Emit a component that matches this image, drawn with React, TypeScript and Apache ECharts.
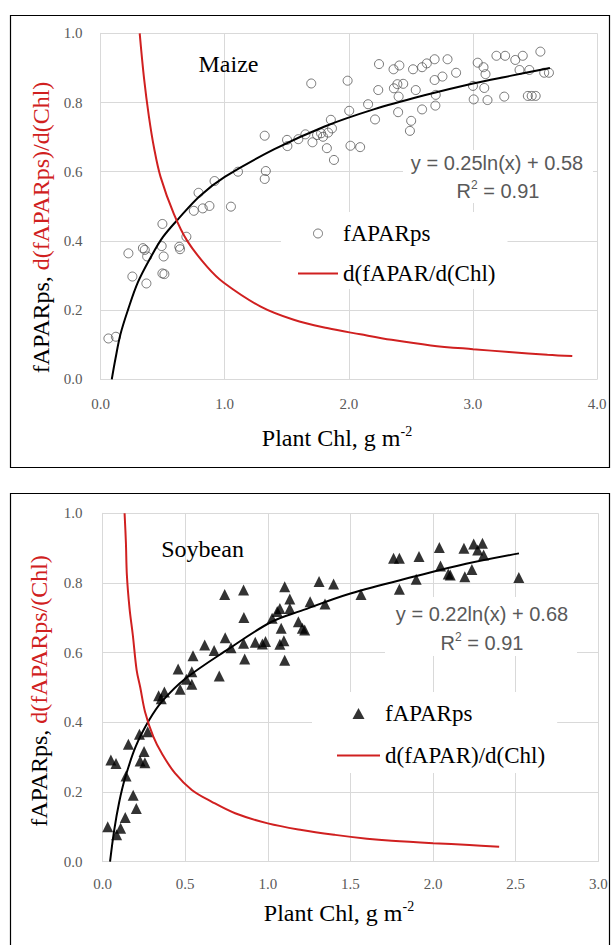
import React, { useEffect, useRef } from "react";
import * as echarts from "echarts";

// ---------- Maize ----------
const maizePoints: [number, number][] = [
  [0.063, 0.118], [0.123, 0.123], [0.224, 0.364], [0.256, 0.297], [0.341, 0.379],
  [0.356, 0.374], [0.375, 0.355], [0.369, 0.277], [0.498, 0.449], [0.492, 0.385],
  [0.508, 0.355], [0.498, 0.306], [0.514, 0.304], [0.634, 0.383], [0.64, 0.376],
  [0.691, 0.412], [0.751, 0.487], [0.789, 0.539], [0.823, 0.494], [0.877, 0.501],
  [0.918, 0.573], [1.05, 0.499], [1.107, 0.6], [1.322, 0.704], [1.331, 0.602],
  [1.322, 0.579], [1.502, 0.692], [1.505, 0.674], [1.593, 0.694], [1.65, 0.708],
  [1.697, 0.855], [1.707, 0.685], [1.744, 0.706], [1.776, 0.711], [1.792, 0.701],
  [1.823, 0.668], [1.833, 0.713], [1.855, 0.75], [1.864, 0.725], [1.88, 0.634],
  [1.99, 0.863], [2.003, 0.776], [2.013, 0.675], [2.091, 0.671], [2.155, 0.795],
  [2.211, 0.751], [2.237, 0.836], [2.243, 0.911], [2.36, 0.896], [2.363, 0.841],
  [2.391, 0.853], [2.401, 0.817], [2.397, 0.772], [2.407, 0.907], [2.438, 0.854],
  [2.492, 0.718], [2.502, 0.747], [2.517, 0.896], [2.539, 0.836], [2.59, 0.78],
  [2.59, 0.902], [2.628, 0.913], [2.691, 0.925], [2.691, 0.865], [2.697, 0.791],
  [2.7, 0.822], [2.754, 0.875], [2.795, 0.925], [2.864, 0.886], [3.0, 0.848],
  [3.006, 0.809], [3.038, 0.915], [3.085, 0.902], [3.091, 0.842], [3.101, 0.882],
  [3.117, 0.807], [3.189, 0.935], [3.259, 0.935], [3.252, 0.817], [3.341, 0.923],
  [3.401, 0.935], [3.375, 0.894], [3.442, 0.819], [3.454, 0.894], [3.473, 0.819],
  [3.505, 0.819], [3.543, 0.947], [3.574, 0.886], [3.612, 0.886],
];
const maizeTrend: [number, number][] = [
  [0.09, 0.0], [0.12, 0.06], [0.16, 0.13], [0.22, 0.2], [0.3, 0.28], [0.4, 0.35],
  [0.5, 0.41], [0.63, 0.465], [0.8, 0.53], [1.0, 0.585], [1.4, 0.665], [1.8, 0.73],
  [2.2, 0.78], [2.6, 0.82], [3.0, 0.855], [3.3, 0.877], [3.62, 0.9],
];
const maizeDeriv: [number, number][] = [
  [0.315, 1.0], [0.35, 0.87], [0.389, 0.76], [0.43, 0.67], [0.483, 0.585], [0.59, 0.478],
  [0.698, 0.4], [0.859, 0.325], [0.993, 0.279], [1.29, 0.21], [1.556, 0.172],
  [1.825, 0.148], [2.093, 0.13], [2.344, 0.114], [2.66, 0.098], [3.0, 0.087],
  [3.29, 0.079], [3.6, 0.071], [3.8, 0.067],
];

// ---------- Soybean ----------
const soyPoints: [number, number][] = [
  [0.031, 0.1], [0.05, 0.292], [0.081, 0.282], [0.085, 0.077], [0.109, 0.096],
  [0.137, 0.127], [0.142, 0.246], [0.156, 0.337], [0.185, 0.191], [0.204, 0.153],
  [0.223, 0.366], [0.227, 0.289], [0.251, 0.316], [0.256, 0.284], [0.273, 0.373],
  [0.339, 0.476], [0.355, 0.468], [0.374, 0.487], [0.457, 0.553], [0.469, 0.495],
  [0.507, 0.524], [0.54, 0.509], [0.547, 0.591], [0.54, 0.545], [0.618, 0.622],
  [0.675, 0.606], [0.706, 0.533], [0.742, 0.643], [0.739, 0.767], [0.777, 0.614],
  [0.853, 0.78], [0.855, 0.701], [0.853, 0.627], [0.86, 0.582], [0.924, 0.63],
  [0.967, 0.625], [0.986, 0.632], [1.026, 0.699], [1.057, 0.718], [1.073, 0.727],
  [1.073, 0.624], [1.081, 0.67], [1.097, 0.634], [1.102, 0.789], [1.102, 0.578],
  [1.133, 0.754], [1.133, 0.727], [1.185, 0.689], [1.209, 0.67], [1.223, 0.665],
  [1.256, 0.746], [1.31, 0.804], [1.346, 0.74], [1.398, 0.797], [1.564, 0.767],
  [1.761, 0.871], [1.796, 0.871], [1.796, 0.782], [1.915, 0.876], [1.898, 0.811],
  [2.038, 0.902], [2.045, 0.849], [2.092, 0.826], [2.104, 0.823], [2.187, 0.9],
  [2.192, 0.818], [2.235, 0.839], [2.246, 0.912], [2.27, 0.895], [2.299, 0.914],
  [2.306, 0.88], [2.519, 0.816],
];
const soyTrend: [number, number][] = [
  [0.045, 0.0], [0.07, 0.09], [0.1, 0.17], [0.136, 0.24], [0.2, 0.33], [0.28, 0.405],
  [0.36, 0.46], [0.5, 0.525], [0.76, 0.61], [1.02, 0.688], [1.2, 0.72], [1.5, 0.77],
  [1.9, 0.82], [2.2, 0.855], [2.52, 0.885],
];
const soyDeriv: [number, number][] = [
  [0.133, 1.0], [0.141, 0.917], [0.147, 0.822], [0.163, 0.727], [0.183, 0.65],
  [0.206, 0.55], [0.228, 0.5], [0.257, 0.43], [0.307, 0.359], [0.358, 0.311],
  [0.438, 0.254], [0.54, 0.206], [0.661, 0.172], [0.802, 0.139], [1.0, 0.11],
  [1.205, 0.091], [1.407, 0.077], [1.6, 0.066], [1.75, 0.06], [2.0, 0.053],
  [2.22, 0.048], [2.4, 0.043],
];

const maizeLegend = ["fAPARps", "d(fAPAR/d(Chl)"];
const soyLegend = ["fAPARps (soy)", "d(fAPAR)/d(Chl)"];
const maizeEq = ["y = 0.25ln(x) + 0.58", "0.91"];
const soyEq = ["y = 0.22ln(x) + 0.68", "0.91"];

const SERIF = "Liberation Serif";
const SANS = "Liberation Sans";
const GRID = "#d9d9d9";
const TICK = "#595959";
const RED = "#d02020";
const CIRCLE = "#555";

export default function App() {
  const ref = useRef<HTMLDivElement>(null);
  useEffect(() => {
    if (!ref.current) return;
    const chart = echarts.init(ref.current, undefined, { renderer: "svg" });
    const xAxisBase = (gridIndex: number, max: number, interval: number, margin: number) => ({
      type: "value",
      gridIndex,
      min: 0,
      max,
      interval,
      axisLine: { show: true, lineStyle: { color: GRID, width: 1 } },
      axisTick: { show: false },
      splitLine: { show: true, lineStyle: { color: GRID, width: 1 } },
      axisLabel: {
        margin,
        color: TICK,
        fontFamily: SERIF,
        fontSize: 15,
        formatter: (v: number) => v.toFixed(1),
      },
    });
    const yAxisBase = (gridIndex: number, margin: number) => ({
      type: "value",
      gridIndex,
      min: 0,
      max: 1,
      interval: 0.2,
      axisLine: { show: true, lineStyle: { color: GRID, width: 1 } },
      axisTick: { show: false },
      splitLine: { show: true, lineStyle: { color: GRID, width: 1 } },
      axisLabel: {
        margin,
        color: TICK,
        fontFamily: SERIF,
        fontSize: 15,
        formatter: (v: number) => v.toFixed(1),
      },
    });
    const legendText = { fontFamily: SERIF, fontSize: 23, color: "#000" };
    const lineIcon = "path://M0,0 H40 V2 H0 Z";
    const triIcon = "path://M6,0 L12,11 L0,11 Z";
    const supRich = {
      b: { fontFamily: SERIF, fontSize: 24, fill: "#000", lineHeight: 28 },
      sup: { fontFamily: SERIF, fontSize: 14, fill: "#000", verticalAlign: "top", lineHeight: 14 },
    };
    const yTitleRich = {
      b: { fontFamily: SERIF, fontSize: 24, fill: "#000" },
      r: { fontFamily: SERIF, fontSize: 24, fill: RED },
    };
    const eqRich = {
      t: { fontFamily: SANS, fontSize: 20, fill: TICK, lineHeight: 24 },
      sup: { fontFamily: SANS, fontSize: 12, fill: TICK, verticalAlign: "top", lineHeight: 12 },
    };

    const option: any = {
      animation: false,
      backgroundColor: "#fff",
      grid: [
        { left: 100.6, top: 33.3, width: 496.5, height: 346, containLabel: false },
        { left: 102.6, top: 513.3, width: 495.7, height: 348.4, containLabel: false },
      ],
      xAxis: [xAxisBase(0, 4, 1, 17), xAxisBase(1, 3, 0.5, 15)],
      yAxis: [yAxisBase(0, 18), yAxisBase(1, 20)],
      legend: [
        {
          orient: "vertical",
          left: 281,
          top: 212,
          padding: [10, 12, 4, 17],
          backgroundColor: "#fff",
          itemWidth: 40,
          itemHeight: 9,
          itemGap: 17,
          selectedMode: false,
          textStyle: legendText,
          data: [
            {
              name: maizeLegend[0],
              icon: "circle",
              itemStyle: { color: "rgba(0,0,0,0)", borderColor: CIRCLE, borderWidth: 1 },
            },
            {
              name: maizeLegend[1],
              icon: lineIcon,
              itemStyle: { color: RED, borderWidth: 0 },
            },
          ],
        },
        {
          orient: "vertical",
          left: 312,
          top: 692,
          padding: [10, 12, 6, 25],
          backgroundColor: "#fff",
          itemWidth: 43,
          itemHeight: 11,
          itemGap: 19,
          selectedMode: false,
          textStyle: legendText,
          formatter: (n: string) => n.replace(" (soy)", ""),
          data: [
            { name: soyLegend[0], icon: triIcon, itemStyle: { color: "#000", borderWidth: 0 } },
            { name: soyLegend[1], icon: lineIcon, itemStyle: { color: RED, borderWidth: 0 } },
          ],
        },
      ],
      series: [
        {
          name: maizeLegend[0],
          type: "scatter",
          xAxisIndex: 0,
          yAxisIndex: 0,
          symbol: "circle",
          symbolSize: 9,
          itemStyle: { color: "rgba(0,0,0,0)", borderColor: CIRCLE, borderWidth: 1 },
          data: maizePoints,
          z: 3,
        },
        {
          name: "maizeTrend",
          type: "line",
          xAxisIndex: 0,
          yAxisIndex: 0,
          symbol: "none",
          smooth: 0.35,
          lineStyle: { color: "#000", width: 2 },
          data: maizeTrend,
          z: 4,
        },
        {
          name: maizeLegend[1],
          type: "line",
          xAxisIndex: 0,
          yAxisIndex: 0,
          symbol: "none",
          smooth: 0.35,
          itemStyle: { color: RED },
          lineStyle: { color: RED, width: 2 },
          data: maizeDeriv,
          z: 4,
        },
        {
          name: soyLegend[0],
          type: "scatter",
          xAxisIndex: 1,
          yAxisIndex: 1,
          symbol: "triangle",
          symbolSize: 11,
          itemStyle: { color: "#000" },
          data: soyPoints,
          z: 3,
        },
        {
          name: "soyTrend",
          type: "line",
          xAxisIndex: 1,
          yAxisIndex: 1,
          symbol: "none",
          smooth: 0.35,
          lineStyle: { color: "#000", width: 2 },
          data: soyTrend,
          z: 4,
        },
        {
          name: soyLegend[1],
          type: "line",
          xAxisIndex: 1,
          yAxisIndex: 1,
          symbol: "none",
          smooth: 0.35,
          itemStyle: { color: RED },
          lineStyle: { color: RED, width: 2 },
          data: soyDeriv,
          z: 4,
        },
      ],
      graphic: [
        { type: "rect", z: 0, shape: { x: 10.5, y: 15.5, width: 599, height: 452 }, style: { fill: "none", stroke: "#000", lineWidth: 1.2 } },
        { type: "rect", z: 0, shape: { x: 10.5, y: 493.5, width: 599, height: 470 }, style: { fill: "none", stroke: "#000", lineWidth: 1.2 } },
        { type: "rect", z: 1, shape: { x: 403, y: 150, width: 190, height: 53 }, style: { fill: "#fff" } },
        { type: "rect", z: 1, shape: { x: 385, y: 597, width: 192, height: 59 }, style: { fill: "#fff" } },
        { type: "text", z: 5, x: 497, y: 163, style: { text: `{t|${maizeEq[0]}}`, rich: eqRich, align: "center", verticalAlign: "middle" } },
        { type: "text", z: 5, x: 498, y: 191, style: { text: `{t|R}{sup|2}{t| = ${maizeEq[1]}}`, rich: eqRich, align: "center", verticalAlign: "middle" } },
        { type: "text", z: 5, x: 482, y: 614, style: { text: `{t|${soyEq[0]}}`, rich: eqRich, align: "center", verticalAlign: "middle" } },
        { type: "text", z: 5, x: 482, y: 643, style: { text: `{t|R}{sup|2}{t| = ${soyEq[1]}}`, rich: eqRich, align: "center", verticalAlign: "middle" } },
        { type: "text", z: 5, x: 228.5, y: 64, style: { text: "Maize", fontFamily: SERIF, fontSize: 24, fill: "#000", align: "center", verticalAlign: "middle" } },
        { type: "text", z: 5, x: 202.6, y: 549.3, style: { text: "Soybean", fontFamily: SERIF, fontSize: 24, fill: "#000", align: "center", verticalAlign: "middle" } },
        { type: "text", z: 5, x: 337, y: 438, style: { text: "{b|Plant Chl, g m}{sup|-2}", rich: supRich, align: "center", verticalAlign: "middle" } },
        { type: "text", z: 5, x: 339, y: 913, style: { text: "{b|Plant Chl, g m}{sup|-2}", rich: supRich, align: "center", verticalAlign: "middle" } },
        { type: "text", z: 5, x: 41, y: 227.5, rotation: Math.PI / 2, style: { text: "{b|fAPARps, }{r|d(fAPARps)/d(Chl)}", rich: yTitleRich, align: "center", verticalAlign: "middle" } },
        { type: "text", z: 5, x: 39, y: 691, rotation: Math.PI / 2, style: { text: "{b|fAPARps, }{r|d(fAPARps/(Chl)}", rich: yTitleRich, align: "center", verticalAlign: "middle" } },
      ],
    };
    chart.setOption(option);
    return () => chart.dispose();
  }, []);
  return (
    <div
      ref={ref}
      style={{ position: "absolute", left: 0, top: 0, width: 614, height: 945 }}
    />
  );
}
